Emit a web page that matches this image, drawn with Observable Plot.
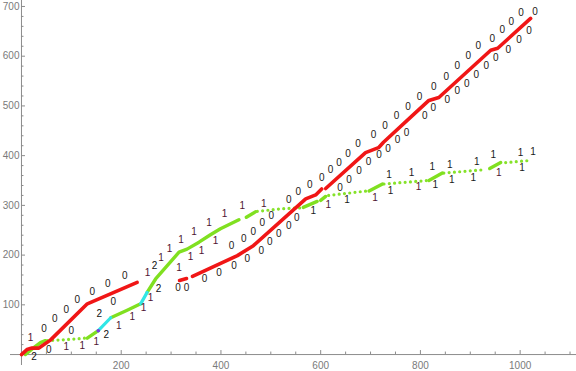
<!DOCTYPE html>
<html><head><meta charset="utf-8">
<script src="https://cdn.jsdelivr.net/npm/d3@7"></script>
<script src="https://cdn.jsdelivr.net/npm/@observablehq/plot@0.6"></script>
<style>body{margin:0;background:#fff;} svg{display:block;}</style>
</head><body><div id="chart"></div>
<script>
// ---- data (x, y) ----
const redSegments = [
  [[0,0],[11,10],[21,13],[35,13],[58,29],[132,102],[232,145]],
  [[317,149],[331,153]],
  [[343,157],[433,199],[465,219],[570,313],[590,321],[602,333]],
  [[610,334],[690,406],[716,416],[726,427],[780,477],[817,511],[837,517],[941,612],[955,616],[1021,676]]
];
const greenSolid = [
  [[8,0],[22,12],[38,24],[48,28]],
  [[132,33],[154,48]],
  [[179,74],[212,89],[239,102]],
  [[252,125],[269,152],[316,206],[332,212],[356,226],[379,241],[399,253],[436,271]],
  [[451,276],[469,287]],
  [[565,296],[593,308]],
  [[600,310],[610,318]],
  [[697,329],[724,343]],
  [[817,350],[844,365]],
  [[939,374],[961,386]]
];
const greenDotted = [
  [[52,28],[90,30],[128,33]],
  [[473,288],[520,293],[560,295]],
  [[616,320],[693,329]],
  [[727,343],[814,350]],
  [[847,365],[931,372]],
  [[971,386],[1016,390]]
];
const cyanSegments = [
  [[154,48],[179,74]],
  [[239,102],[252,125]]
];
const purplePoints = [[154,48]];

const labels0 = [
  [45,52],[67,72],[90,90],[112,110],[142,127],[173,143],[207,159],
  [55,9],[100,47],[184,107],
  [314,135],[331,135],[367,153],[396,165],[426,179],[453,193],[481,209],[498,227],[516,243],[536,258],[552,276],
  [639,335],[657,352],[677,369],[696,387],[717,402],[735,414],[754,431],[772,446],
  [809,481],[826,496],[854,513],[874,531],[893,545],[912,563],[932,581],[951,597],[976,613],[998,633],[1018,652],
  [421,218],[446,233],[465,247],[483,264],[501,280],[536,311],[555,328],[578,342],[602,355],[620,372],[637,386],
  [655,404],[675,423],[706,441],[729,461],[752,481],[775,499],[798,519],[827,538],[852,559],[874,580],[896,600],
  [916,620],[944,635],[964,653],[982,669],[1002,687],[1030,689]
];
const labels1Dark = [
  [18,34],[90,15],[122,18],[150,26],[195,58],[222,75],[245,94],
  [253,164],[280,194],[297,213],[320,231],[346,247],[376,264],[407,283],[443,300],[486,304],
  [259,115],[316,174],[339,196],[361,209],[389,229],
  [615,301],[709,316],[796,337],[957,366]
];
const labels1Black = [
  [585,290],[653,311],[740,330],[737,362],[782,366],[824,378],[830,341],[859,382],[863,351],
  [913,388],[906,356],[946,402],[1001,406],[1004,376],[1026,408]
];
const labels2 = [[25,-5],[156,82],[170,40],[267,179],[275,132]];

const xMajor = [200,400,600,800,1000];
const xMinor = [0,50,100,150,250,300,350,450,500,550,650,700,750,850,900,950,1050,1100];
const yMajor = [100,200,300,400,500,600,700];
const yMinor = d3.range(20,701,20).filter(v => v % 100 !== 0);

// ---- tables ----
const rows = segs => segs.flatMap((s,i) => s.map(([x,y]) => ({x, y, seg:i})));
const redRows = rows(redSegments);
const greenRows = rows(greenSolid);
const dotRows = rows(greenDotted);
const cyanRows = rows(cyanSegments);

const axisColor = "#8c8c8c";
const tickLabelColor = "#7a7a7a";

const chart = Plot.plot({
  width: 576,
  height: 371,
  marginLeft: 10,
  marginRight: 0,
  marginTop: 0,
  marginBottom: 6,
  x: {domain: [-22, 1113], axis: null},
  y: {domain: [-22, 712], axis: null},
  style: {fontFamily: "'Liberation Sans', Arial, sans-serif", background: "white"},
  marks: [
    // axes
    Plot.ruleY([0], {stroke: axisColor, strokeWidth: 1}),
    Plot.ruleX([0], {stroke: axisColor, strokeWidth: 1}),
    Plot.ruleX(xMajor, {x: d => d, y1: 0, y2: 0, insetTop: -4, stroke: axisColor}),
    Plot.ruleX(xMinor, {x: d => d, y1: 0, y2: 0, insetTop: -2.5, stroke: axisColor}),
    Plot.ruleY(yMajor, {y: d => d, x1: 0, x2: 0, insetRight: -4, stroke: axisColor}),
    Plot.ruleY(yMinor, {y: d => d, x1: 0, x2: 0, insetRight: -2.5, stroke: axisColor}),
    Plot.text(xMajor, {x: d => d, y: 0, dy: 11, text: d => String(d), fill: tickLabelColor, fontSize: 10}),
    Plot.text(yMajor, {x: 0, y: d => d, dx: -2, textAnchor: "end", text: d => String(d), fill: tickLabelColor, fontSize: 10}),
    // lines
    Plot.line(dotRows, {x: "x", y: "y", z: "seg", stroke: "#86e22a", strokeWidth: 3.2, strokeDasharray: "0 5.3", strokeLinecap: "round"}),
    Plot.line(greenRows, {x: "x", y: "y", z: "seg", stroke: "#80e020", strokeWidth: 3.4, strokeLinejoin: "round"}),
    Plot.line(cyanRows, {x: "x", y: "y", z: "seg", stroke: "#30e6e6", strokeWidth: 3.2, strokeLinejoin: "round"}),
    Plot.dot(purplePoints, {x: d => d[0], y: d => d[1], r: 1.8, fill: "#7a3ae0"}),
    Plot.line(redRows, {x: "x", y: "y", z: "seg", stroke: "#f01616", strokeWidth: 3.6, strokeLinejoin: "round"}),
    // labels
    Plot.text(labels0, {x: d => d[0], y: d => d[1], text: () => "0", fill: "#1e1a16", fontSize: 10}),
    Plot.text(labels1Dark, {x: d => d[0], y: d => d[1], text: () => "1", fill: "#4e1432", fontSize: 10}),
    Plot.text(labels1Black, {x: d => d[0], y: d => d[1], text: () => "1", fill: "#1a1a1a", fontSize: 10}),
    Plot.text(labels2, {x: d => d[0], y: d => d[1], text: () => "2", fill: "#111", fontSize: 10})
  ]
});
document.getElementById("chart").appendChild(chart);
</script>
</body></html>
